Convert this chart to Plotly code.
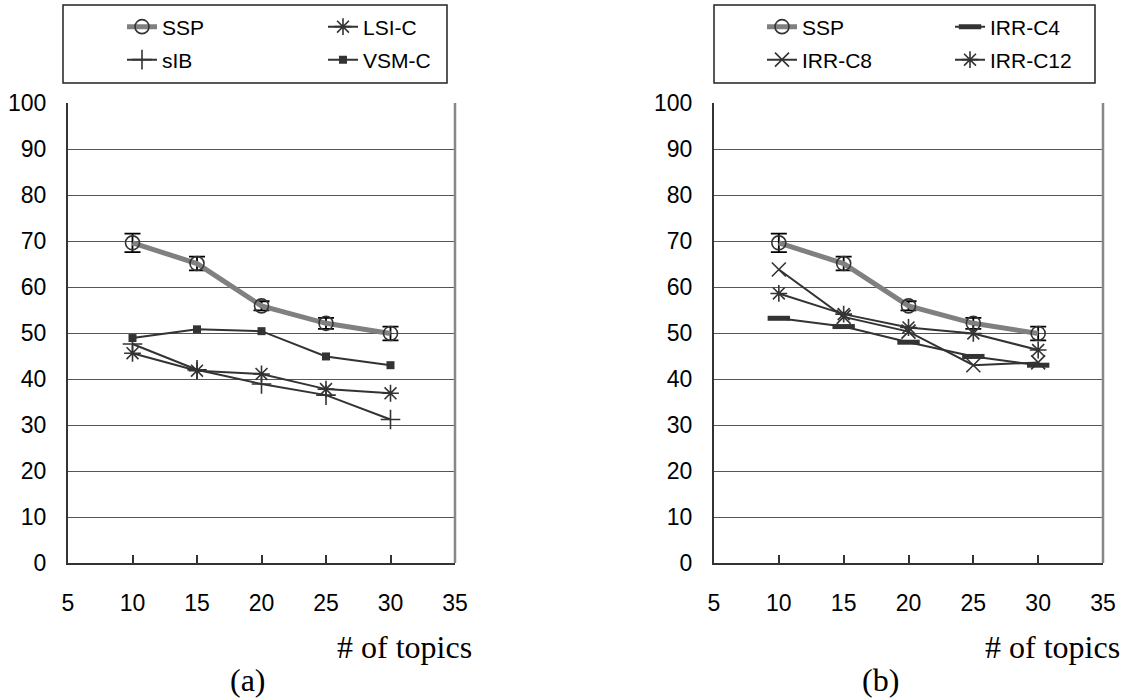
import plotly.graph_objects as go

# ---------------- data ----------------
topics = [10, 15, 20, 25, 30]
x_ticks = [5, 10, 15, 20, 25, 30, 35]
y_ticks = [0, 10, 20, 30, 40, 50, 60, 70, 80, 90, 100]

ssp = [69.6, 65.1, 55.9, 52.1, 49.9]
ssp_err = [2.0, 1.5, 1.0, 1.2, 1.5]

# panel (a)
lsi_c = [45.6, 41.8, 41.1, 37.8, 36.9]
sib = [47.6, 42.0, 38.9, 36.5, 31.2]
vsm_c = [48.9, 50.8, 50.4, 44.9, 43.0]

# panel (b)
irr_c4 = [53.2, 51.4, 48.0, 44.9, 43.0]
irr_c8 = [63.8, 53.5, 50.3, 43.0, 43.6]
irr_c12 = [58.6, 54.1, 51.2, 49.9, 46.3]

W, H = 1128, 699
NARROW = "Liberation Sans Narrow, Arial Narrow, Liberation Sans, Arial, sans-serif"
SERIF = "Liberation Serif, Times New Roman, serif"
DARK = "#333333"


def px(x):
    return x / W


def py(y):
    return 1 - y / H


fig = go.Figure()


def ssp_trace(xa, ya, leg):
    return go.Scatter(
        x=topics, y=ssp, name="SSP", xaxis=xa, yaxis=ya, legend=leg,
        mode="lines+markers",
        line=dict(color="#808080", width=5),
        marker=dict(symbol="circle-open", size=14, color=DARK, line=dict(width=1.6)),
        error_y=dict(type="data", array=ssp_err, visible=True, color="black",
                     thickness=1.8, width=8),
    )


def series(name, vals, symbol, size, xa, ya, leg, mwidth=1.6):
    return go.Scatter(
        x=topics, y=vals, name=name, xaxis=xa, yaxis=ya, legend=leg,
        mode="lines+markers",
        line=dict(color=DARK, width=2),
        marker=dict(symbol=symbol, size=size, color=DARK, line=dict(width=mwidth, color=DARK)),
    )


# panel (a)
fig.add_trace(ssp_trace("x", "y", "legend"))
fig.add_trace(series("LSI-C", lsi_c, "asterisk-open", 14, "x", "y", "legend"))
fig.add_trace(series("sIB", sib, "cross-thin-open", 14, "x", "y", "legend2"))
fig.add_trace(series("VSM-C", vsm_c, "square", 8, "x", "y", "legend2", mwidth=0))

# panel (b)
fig.add_trace(ssp_trace("x2", "y2", "legend3"))
fig.add_trace(series("IRR-C4", irr_c4, "line-ew-open", 16, "x2", "y2", "legend3", mwidth=5))
fig.add_trace(series("IRR-C8", irr_c8, "x-thin-open", 14, "x2", "y2", "legend4"))
fig.add_trace(series("IRR-C12", irr_c12, "asterisk-open", 14, "x2", "y2", "legend4"))

xcommon = dict(
    range=[5, 35], tickvals=x_ticks, ticks="inside", ticklen=8, tickwidth=1.5,
    tickcolor=DARK, showline=True, linecolor=DARK, linewidth=2, showgrid=False,
    zeroline=False, tickfont=dict(family=NARROW, size=23, color="black"),
    ticklabelstandoff=18,
)
ycommon = dict(
    range=[0, 100], tickvals=y_ticks, ticks="", showline=True, linecolor=DARK,
    linewidth=2, showgrid=True, gridcolor="#555555", gridwidth=1, zeroline=False,
    tickfont=dict(family=NARROW, size=23, color="black"), ticklabelstandoff=15,
)

ydom = [py(563), py(103)]
fig.update_layout(
    width=W, height=H, margin=dict(l=0, r=0, t=0, b=0, autoexpand=False),
    paper_bgcolor="white", plot_bgcolor="white",
    xaxis=dict(xcommon, domain=[px(68), px(455)], anchor="y"),
    yaxis=dict(ycommon, domain=ydom, anchor="x"),
    xaxis2=dict(xcommon, domain=[px(714), px(1103)], anchor="y2"),
    yaxis2=dict(ycommon, domain=ydom, anchor="x2"),
)

legfont = dict(family=NARROW, size=21, color="black")


def leg(x, y, ew):
    return dict(
        x=px(x), y=py(y), xanchor="left", yanchor="middle", orientation="h",
        entrywidth=ew, entrywidthmode="pixels", bgcolor="rgba(0,0,0,0)",
        borderwidth=0, font=legfont, itemwidth=30, tracegroupgap=0,
    )


fig.update_layout(
    legend=leg(122, 27, 156), legend2=leg(122, 60, 156),
    legend3=leg(762, 27, 143), legend4=leg(762, 60, 143),
)

shapes = []
# legend boxes
for x0, x1 in [(63, 447), (714, 1095)]:
    shapes.append(dict(type="rect", xref="paper", yref="paper",
                       x0=px(x0), x1=px(x1), y0=py(83), y1=py(5),
                       line=dict(color="#222222", width=1.5), fillcolor="rgba(0,0,0,0)"))
# right borders of plot areas
for xr, yr in [("x domain", "y domain"), ("x2 domain", "y2 domain")]:
    shapes.append(dict(type="line", xref=xr, yref=yr, x0=1, x1=1, y0=0, y1=1,
                       line=dict(color="#888888", width=2.5)))
fig.update_layout(shapes=shapes)

annotations = [
    dict(text="# of topics", x=px(474), y=py(647), xanchor="right", yanchor="middle"),
    dict(text="(a)", x=px(248), y=py(680), xanchor="center", yanchor="middle"),
    dict(text="# of topics", x=px(1122), y=py(647), xanchor="right", yanchor="middle"),
    dict(text="(b)", x=px(880), y=py(680), xanchor="center", yanchor="middle"),
]
for a in annotations:
    a.update(xref="paper", yref="paper", showarrow=False,
             font=dict(family=SERIF, size=32, color="black"))
fig.update_layout(annotations=annotations)

fig.write_html(
    "out.html",
    config={"displayModeBar": False},
    post_script="document.body.style.margin='0';document.body.style.overflow='hidden';",
)
